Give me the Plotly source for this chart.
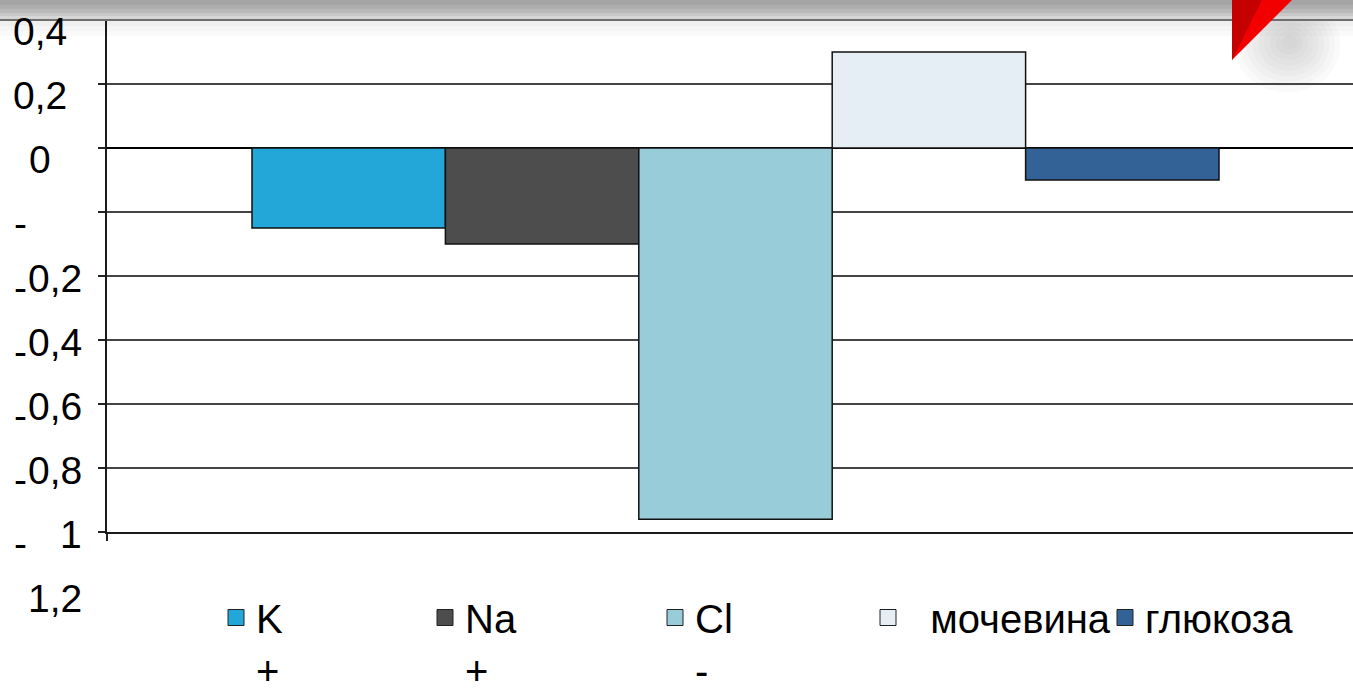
import plotly.graph_objects as go

# ---------------- data ----------------
series_names = ["K<br>+", "Na<br>+", "Cl<br>-", "\u00a0\u00a0мочевина", "глюкоза"]
series_values = [-0.25, -0.30, -1.16, 0.30, -0.10]
series_colors = ["#23A6D8", "#4D4D4D", "#98CCD9", "#E6EEF5", "#336297"]
category = ["Δ"]

tick_values = [0.4, 0.2, 0.0, -0.2, -0.4, -0.6, -0.8, -1.0, -1.2]
tick_labels = ["0,4", "0,2", "0", "-0,2", "-0,4", "-0,6", "-0,8", "-1", "-1,2"]

# legend item left positions (px) in the reference
legend_px = [228, 437, 667, 880, 1117]

# ---------------- geometry ----------------
W, H = 1353, 696
PL, PR, PT, PB = 107, 1353, 20, 532
FONT = "Liberation Sans, Arial, sans-serif"
AXIS_FS = 39
LEG_FS = 40


def px_x(px):
    return (px - PL) / (PR - PL)


def px_y(py):
    return (PB - py) / (PB - PT)


fig = go.Figure()

for name, val, col in zip(series_names, series_values, series_colors):
    fig.add_trace(go.Bar(
        x=category, y=[val], name=name,
        marker=dict(color=col, line=dict(color="#111111", width=1.5)),
        showlegend=False, hoverinfo="skip",
    ))

# legend entries (one legend per entry so each can be placed freely)
legend_layouts = {}
for i, (name, col, lx) in enumerate(zip(series_names, series_colors, legend_px)):
    key = "legend" if i == 0 else f"legend{i+1}"
    fig.add_trace(go.Scatter(
        x=[None], y=[None], mode="markers", name=name, legend=key,
        marker=dict(symbol="square", size=16, color=col,
                    line=dict(color="#222222", width=1)),
        showlegend=True,
    ))
    legend_layouts[key] = dict(
        x=px_x(lx - 12), y=px_y(585), xanchor="left", yanchor="top",
        bgcolor="rgba(0,0,0,0)", borderwidth=0, itemsizing="trace",
        valign="top", font=dict(family=FONT, size=LEG_FS, color="#000000"),
    )

# y tick labels as annotations (wrapped like the original)
annotations = []
for v, lab in zip(tick_values, tick_labels):
    if lab.startswith("-"):
        annotations.append(dict(
            x=0, xref="paper", y=v, yref="y", text="-", showarrow=False,
            xanchor="right", yanchor="middle", xshift=29 - PL, yshift=-11,
            font=dict(family=FONT, size=AXIS_FS, color="#000000")))
        annotations.append(dict(
            x=0, xref="paper", y=v, yref="y", text=lab[1:], showarrow=False,
            xanchor="right", yanchor="middle", xshift=84 - PL, yshift=-66,
            font=dict(family=FONT, size=AXIS_FS, color="#000000")))
    else:
        annotations.append(dict(
            x=0, xref="paper", y=v, yref="y", text=lab, showarrow=False,
            xanchor="center", yanchor="middle", xshift=40 - PL, yshift=-11,
            font=dict(family=FONT, size=AXIS_FS, color="#000000")))

# slide decorations: header band, red corner triangle with soft shadow
shapes = []
bands = [(0, 5, "#a4a4a4"), (5, 9, "#adadad"), (9, 13, "#b9b9b9"),
         (13, 16, "#c8c8c8"), (16, 19, "#d6d6d6")]
for y0, y1, c in bands:
    shapes.append(dict(type="rect", xref="paper", yref="paper",
                       x0=px_x(0), x1=px_x(W), y0=px_y(y1), y1=px_y(y0),
                       fillcolor=c, line=dict(width=0), layer="above"))
for y0, y1, c in [(21, 26, "#efefef"), (26, 31, "#f5f5f5"), (31, 36, "#fafafa")]:
    shapes.append(dict(type="rect", xref="paper", yref="paper",
                       x0=px_x(0), x1=px_x(W), y0=px_y(y1), y1=px_y(y0),
                       fillcolor=c, line=dict(width=0), layer="below"))
shapes.append(dict(type="line", xref="paper", yref="paper",
                   x0=px_x(0), x1=px_x(W), y0=px_y(20), y1=px_y(20),
                   line=dict(color="#6e6e6e", width=2), layer="above"))
cx, cy = 1290, 42
for r in range(56, 6, -6):
    shapes.append(dict(type="circle", xref="paper", yref="paper",
                       x0=px_x(cx - r), x1=px_x(cx + r * 0.9),
                       y0=px_y(cy + r * 0.9), y1=px_y(cy - r * 0.8),
                       fillcolor="#808080", opacity=0.045, line=dict(width=0),
                       layer="below"))


def tri(pts):
    return "M " + " L ".join(f"{px_x(a)},{px_y(b)}" for a, b in pts) + " Z"


shapes.append(dict(type="path", xref="paper", yref="paper",
                   path=tri([(1232, 0), (1292, 0), (1232, 60)]),
                   fillcolor="#f20000", line=dict(width=0), layer="above"))
shapes.append(dict(type="path", xref="paper", yref="paper",
                   path=tri([(1232, 0), (1262, 0), (1232, 60)]),
                   fillcolor="#c40000", line=dict(width=0), layer="above"))

layout = dict(
    width=W, height=H,
    margin=dict(l=PL, r=W - PR, t=PT, b=H - PB, pad=0, autoexpand=False),
    paper_bgcolor="white", plot_bgcolor="white",
    barmode="group", bargap=0.2307, bargroupgap=0,
    showlegend=True,
    font=dict(family=FONT, size=AXIS_FS, color="#000000"),
    xaxis=dict(type="category", range=[-0.5, 0.49125], showticklabels=False,
               ticks="outside", tickson="boundaries", ticklen=7,
               tickcolor="#222222", tickwidth=1.5,
               showline=True, linecolor="#1a1a1a", linewidth=2,
               showgrid=False, zeroline=False, fixedrange=True),
    yaxis=dict(range=[-1.2, 0.4], tickvals=tick_values, showticklabels=False,
               ticks="outside", ticklen=7, tickcolor="#222222", tickwidth=1.5,
               showline=True, linecolor="#1a1a1a", linewidth=2,
               showgrid=True, gridcolor="#454545", gridwidth=1.5,
               zeroline=True, zerolinecolor="#000000", zerolinewidth=2,
               fixedrange=True),
    annotations=annotations,
    shapes=shapes,
)
layout.update(legend_layouts)
fig.update_layout(**layout)

fig.write_html("out.html")
